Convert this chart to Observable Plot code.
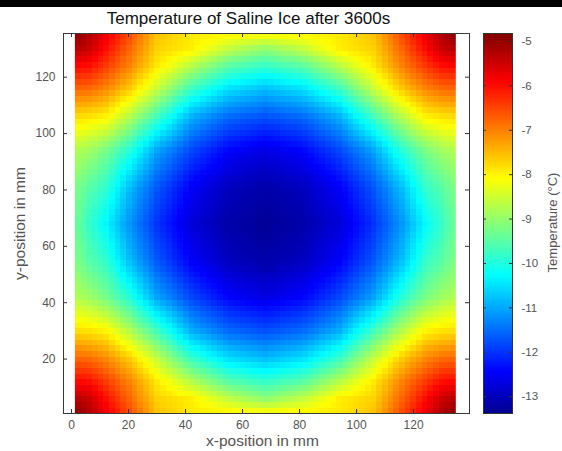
<!DOCTYPE html>
<html><head><meta charset="utf-8">
<script src="https://cdn.jsdelivr.net/npm/d3@7"></script>
<script src="https://cdn.jsdelivr.net/npm/@observablehq/plot@0.6"></script>
<style>
body{margin:0;background:#fff;}
#wrap{position:relative;width:562px;height:451px;overflow:hidden;font-family:"Liberation Sans",Arial,sans-serif;background:#fff;}
#topbar{position:absolute;left:0;top:0;width:562px;height:7px;background:#000;}
#main,#cbar{position:absolute;top:0;}
#main{left:0;} #cbar{left:483px;}
</style></head><body>
<div id="wrap"><div id="main"></div><div id="cbar"></div><div id="topbar"></div></div>
<script>
const title = "Temperature of Saline Ice after 3600s";
const xLabel = "x-position in mm";
const yLabel = "y-position in mm";
const cLabel = "Temperature (°C)";
const xTicks = [0, 20, 40, 60, 80, 100, 120];
const yTicks = [20, 40, 60, 80, 100, 120];
const cTicks = [-5, -6, -7, -8, -9, -10, -11, -12, -13];
const cMin = -13.38, cMax = -4.82;

// sample positions (mm) and temperatures (°C), rows top -> bottom
const xs = [1.2, 6, 12, 20, 30, 42, 55, 68, 81, 94, 106, 116, 124, 130, 134.8];
const ys = [135.5, 130, 124, 116, 106, 94, 81, 68, 55, 42, 30, 20, 12, 6, 0.8];
const temps = [
  [-4.85, -5.20, -5.75, -6.50, -7.55, -7.90, -7.95, -8.00, -7.95, -7.90, -7.55, -6.50, -5.75, -5.20, -4.85],
  [-5.30, -5.45, -6.00, -6.75, -7.70, -7.95, -8.62, -9.06, -8.62, -7.95, -7.70, -6.75, -6.00, -5.45, -5.30],
  [-5.95, -6.00, -6.40, -7.00, -7.90, -8.71, -9.51, -9.81, -9.51, -8.71, -7.90, -7.00, -6.40, -6.00, -5.95],
  [-6.75, -6.80, -7.05, -7.60, -8.55, -9.74, -10.50, -10.79, -10.50, -9.74, -8.55, -7.60, -7.05, -6.80, -6.75],
  [-7.80, -7.85, -8.00, -8.70, -9.70, -10.93, -11.53, -11.75, -11.53, -10.93, -9.70, -8.70, -8.00, -7.85, -7.80],
  [-8.75, -8.90, -9.25, -9.91, -11.03, -11.83, -12.42, -12.66, -12.42, -11.83, -11.03, -9.91, -9.25, -8.90, -8.75],
  [-9.15, -9.50, -9.84, -10.78, -11.68, -12.47, -12.97, -13.15, -12.97, -12.47, -11.68, -10.78, -9.84, -9.50, -9.15],
  [-9.30, -9.80, -10.30, -11.13, -12.00, -12.75, -13.15, -13.32, -13.15, -12.75, -12.00, -11.13, -10.30, -9.80, -9.30],
  [-9.15, -9.50, -9.84, -10.78, -11.68, -12.47, -12.97, -13.15, -12.97, -12.47, -11.68, -10.78, -9.84, -9.50, -9.15],
  [-8.75, -8.90, -9.25, -9.91, -11.03, -11.83, -12.42, -12.66, -12.42, -11.83, -11.03, -9.91, -9.25, -8.90, -8.75],
  [-7.80, -7.85, -8.00, -8.70, -9.70, -10.93, -11.53, -11.75, -11.53, -10.93, -9.70, -8.70, -8.00, -7.85, -7.80],
  [-6.75, -6.80, -7.05, -7.60, -8.55, -9.74, -10.50, -10.79, -10.50, -9.74, -8.55, -7.60, -7.05, -6.80, -6.75],
  [-5.95, -6.00, -6.40, -7.00, -7.90, -8.71, -9.51, -9.81, -9.51, -8.71, -7.90, -7.00, -6.40, -6.00, -5.95],
  [-5.30, -5.45, -6.00, -6.75, -7.70, -7.95, -8.62, -9.06, -8.62, -7.95, -7.70, -6.75, -6.00, -5.45, -5.30],
  [-4.85, -5.20, -5.75, -6.50, -7.55, -7.90, -7.95, -8.00, -7.95, -7.90, -7.55, -6.50, -5.75, -5.20, -4.85]
];

// bilinear lookup in the sampled grid (rendering only)
function field(x, y) {
  let i = 0;
  while (i < xs.length - 2 && x > xs[i + 1]) i++;
  let j = 0;
  while (j < ys.length - 2 && y < ys[j + 1]) j++;
  const tx = Math.max(0, Math.min(1, (x - xs[i]) / (xs[i + 1] - xs[i])));
  const ty = Math.max(0, Math.min(1, (ys[j] - y) / (ys[j] - ys[j + 1])));
  return (1 - tx) * (1 - ty) * temps[j][i] + tx * (1 - ty) * temps[j][i + 1]
       + (1 - tx) * ty * temps[j + 1][i] + tx * ty * temps[j + 1][i + 1];
}

// jet colormap
const jetStops = [0, 0.111, 0.365, 0.619, 0.873, 1];
const jetColors = ["#00008f", "#0000ff", "#00ffff", "#ffff00", "#ff0000", "#800000"];
const colorScale = {
  type: "linear",
  domain: jetStops.map(f => cMin + f * (cMax - cMin)),
  range: jetColors,
  interpolate: "rgb",
  clamp: true
};
const font = "'Liberation Sans', Arial, sans-serif";
const grey = "#555";

const main = Plot.plot({
  width: 562, height: 451,
  marginLeft: 63, marginRight: 93, marginTop: 33, marginBottom: 38,
  x: {domain: [-2.8, 139.6]},
  y: {domain: [0.7, 135.5]},
  color: colorScale,
  style: {fontFamily: font, background: "transparent"},
  marks: [
    Plot.raster({fill: field, x1: 1.2, x2: 134.8, y1: 0.8, y2: 135.5, pixelSize: 5.7, imageRendering: "pixelated"}),
    Plot.frame({stroke: "#3a3a3a"}),
    Plot.ruleX(xTicks, {x: d => d, stroke: "#333", insetTop: 376}),
    Plot.ruleX(xTicks, {x: d => d, stroke: "#333", insetBottom: 376}),
    Plot.ruleY(yTicks, {y: d => d, stroke: "#333", insetRight: 402}),
    Plot.ruleY(yTicks, {y: d => d, stroke: "#333", insetLeft: 402}),
    Plot.axisX(xTicks, {tickSize: 0, tickPadding: 7, fontSize: 12, color: grey, label: null, tickFormat: d => String(d)}),
    Plot.axisY(yTicks, {tickSize: 0, tickPadding: 8, fontSize: 12, color: grey, label: null, tickFormat: d => String(d)}),
    Plot.text([xLabel], {text: d => d, frameAnchor: "bottom", lineAnchor: "middle", textAnchor: "middle", dy: 28, dx: -4, fontSize: 15.5, fill: grey}),
    Plot.text([yLabel], {text: d => d, frameAnchor: "left", lineAnchor: "middle", textAnchor: "middle", dx: -43, dy: 0, rotate: -90, fontSize: 15.5, fill: grey}),
    Plot.text([title], {text: d => d, frameAnchor: "top", lineAnchor: "middle", textAnchor: "middle", dy: -15, dx: -18, fontSize: 17, fill: "#111"})
  ]
});
document.getElementById("main").appendChild(main);

const cbar = Plot.plot({
  width: 79, height: 451,
  marginLeft: 0, marginRight: 50, marginTop: 33, marginBottom: 38,
  x: {domain: [0, 1], axis: null},
  y: {domain: [cMin, cMax], axis: null},
  color: colorScale,
  style: {fontFamily: font, background: "transparent", overflow: "visible"},
  marks: [
    Plot.raster({fill: (x, y) => y, x1: 0, x2: 1, y1: cMin, y2: cMax}),
    Plot.frame({stroke: "#333"}),
    Plot.ruleY(cTicks, {y: d => d, stroke: "#333", insetLeft: 26}),
    Plot.ruleY(cTicks, {y: d => d, stroke: "#333", insetRight: 26}),
    Plot.axisY(cTicks, {anchor: "right", tickSize: 0, tickPadding: 9, fontSize: 11.5, color: grey, label: null, tickFormat: d => String(d)}),
    Plot.text([cLabel], {text: d => d, frameAnchor: "right", lineAnchor: "middle", textAnchor: "middle", dx: 40, dy: -1, rotate: -90, fontSize: 13, fill: grey})
  ]
});
document.getElementById("cbar").appendChild(cbar);
</script>
</body></html>
